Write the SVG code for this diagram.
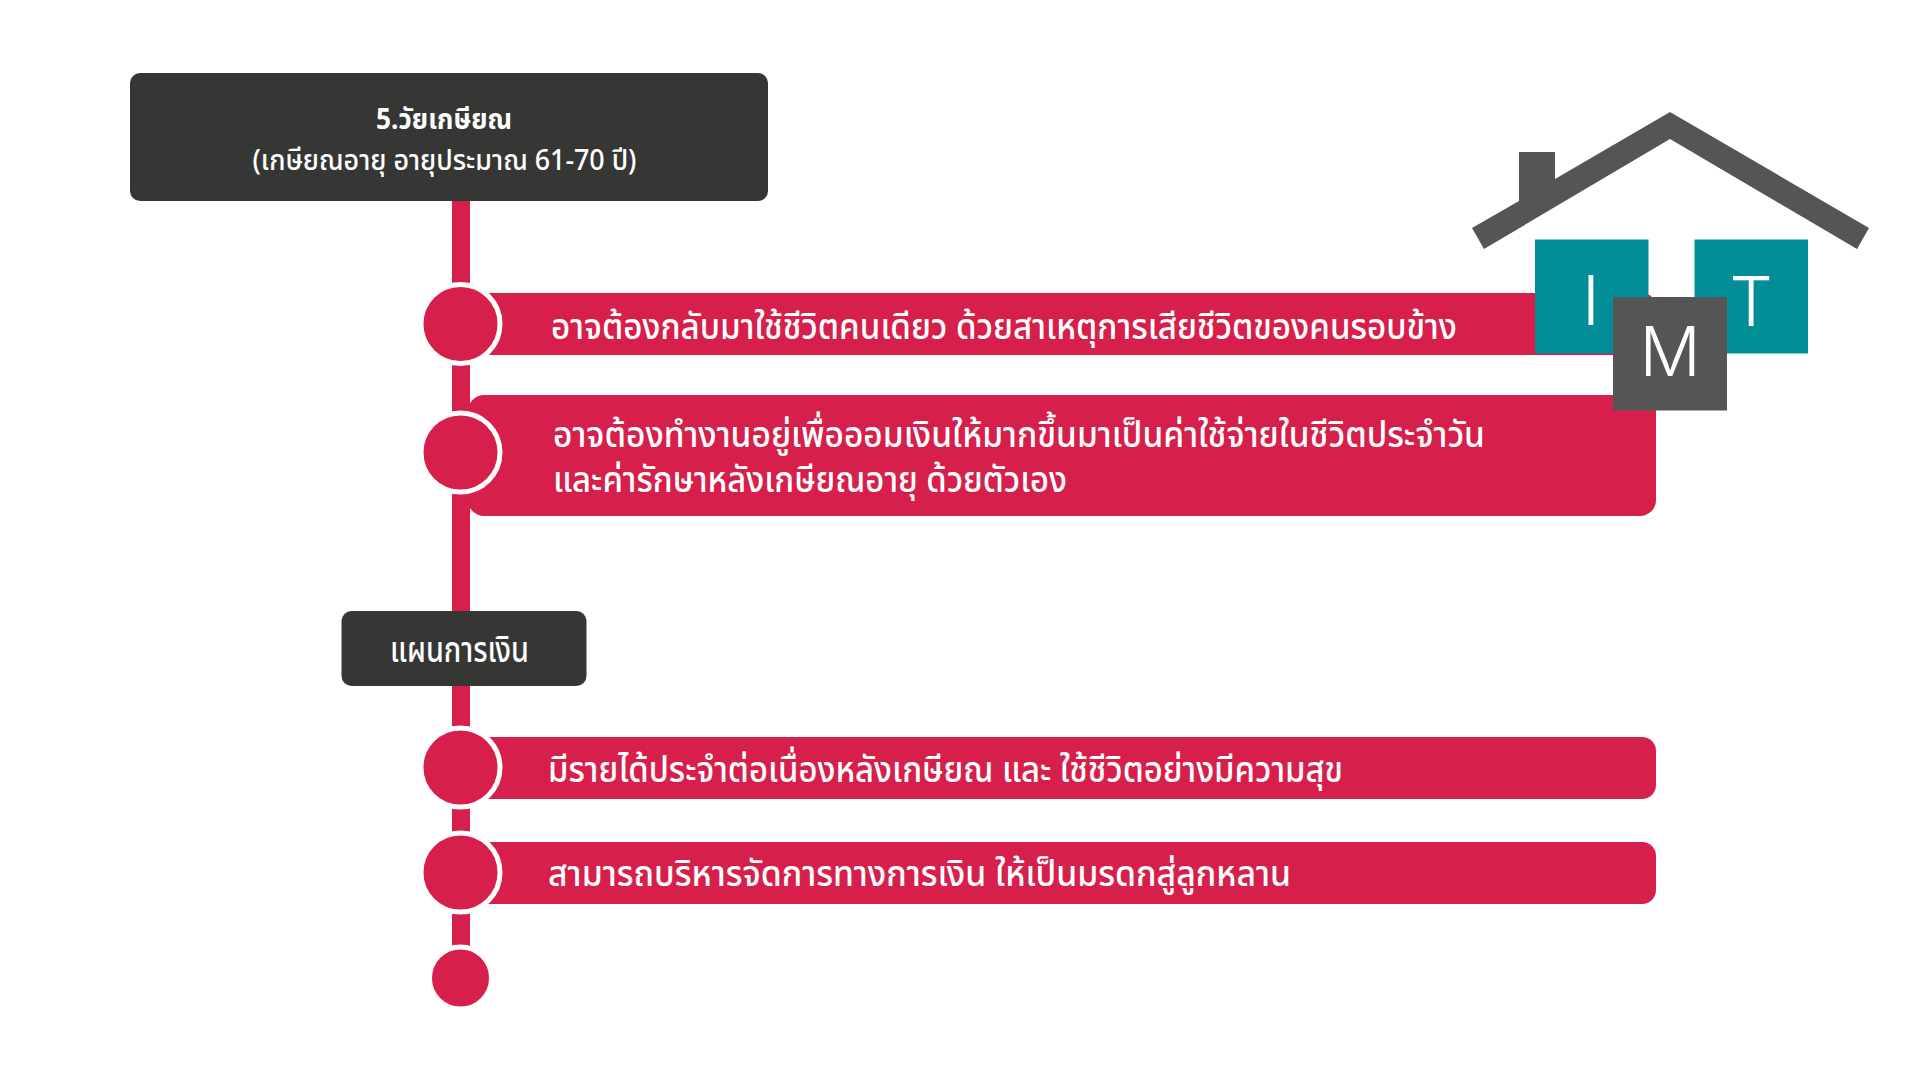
<svg xmlns="http://www.w3.org/2000/svg" width="1920" height="1080" viewBox="0 0 1920 1080">
<style>
.b{fill:#d61f4b}
.d{fill:#363634}
.dot{fill:#d61f4b;stroke:#fff;stroke-width:5}
.t{font-family:"Noto Sans","Noto Sans Thai","Noto Sans CJK SC",sans-serif;fill:#fff;font-size:35px;font-weight:500}
.h{font-size:29px}
.l{font-family:Inter,Lato,sans-serif;fill:#fff;font-size:68px;font-weight:300;text-anchor:middle}
</style>
<rect width="1920" height="1080" fill="#fff"/>
<g id="connectors"><rect x="452" y="195" width="18" height="760" class="b"/></g>
<g id="header"><rect x="130" y="73" width="638" height="128" rx="10" class="d"/>
<text class="t h" x="376" y="129" textLength="136" lengthAdjust="spacingAndGlyphs" style="font-weight:700">5.วัยเกษียณ</text>
<text class="t h" x="252.500" y="169.500" textLength="384" lengthAdjust="spacingAndGlyphs">(เกษียณอายุ อายุประมาณ 61-70 ปี)</text></g>
<g id="item1"><rect x="470" y="293" width="1186" height="62" rx="14" class="b"/>
<circle cx="460.500" cy="324" r="39.5" class="dot"/>
<text class="t" x="551" y="339" textLength="906" lengthAdjust="spacingAndGlyphs">อาจต้องกลับมาใช้ชีวิตคนเดียว ด้วยสาเหตุการเสียชีวิตของคนรอบข้าง</text></g>
<g id="item2"><rect x="468" y="395" width="1188" height="121" rx="16" class="b"/>
<circle cx="460.500" cy="452.500" r="39.5" class="dot"/>
<text class="t" x="553" y="447" textLength="932" lengthAdjust="spacingAndGlyphs">อาจต้องทำงานอยู่เพื่อออมเงินให้มากขึ้นมาเป็นค่าใช้จ่ายในชีวิตประจำวัน</text>
<text class="t" x="553" y="492" textLength="514" lengthAdjust="spacingAndGlyphs">และค่ารักษาหลังเกษียณอายุ ด้วยตัวเอง</text></g>
<g id="plan"><rect x="341.500" y="611" width="245" height="75" rx="10" class="d"/>
<text class="t" x="390" y="662" textLength="139" lengthAdjust="spacingAndGlyphs">แผนการเงิน</text></g>
<g id="item3"><rect x="470" y="737" width="1186" height="62" rx="14" class="b"/>
<circle cx="460.500" cy="767.500" r="39.5" class="dot"/>
<text class="t" x="548" y="782" textLength="795" lengthAdjust="spacingAndGlyphs">มีรายได้ประจำต่อเนื่องหลังเกษียณ และ ใช้ชีวิตอย่างมีความสุข</text></g>
<g id="item4"><rect x="470" y="842" width="1186" height="62" rx="14" class="b"/>
<circle cx="460.500" cy="872.500" r="39.5" class="dot"/>
<text class="t" x="548" y="886" textLength="743" lengthAdjust="spacingAndGlyphs">สามารถบริหารจัดการทางการเงิน ให้เป็นมรดกสู่ลูกหลาน</text></g>
<g id="end"><circle cx="460.500" cy="978" r="31" class="dot"/></g>
<g id="logo">
<path d="M1670 112L1869 228L1857 249L1670 139L1484 249L1472 228L1519 201V152H1555V179Z" fill="#555"/>
<rect x="1535" y="239.500" width="113.500" height="114" fill="#028e96"/>
<rect x="1694.500" y="239.500" width="113.500" height="114" fill="#028e96"/>
<rect x="1613" y="297" width="114" height="113.500" fill="#555"/>
<text class="l" x="1591" y="325">I</text>
<text class="l" x="1751" y="326">T</text>
<text class="l" x="1670" y="376">M</text>
</g>
</svg>
